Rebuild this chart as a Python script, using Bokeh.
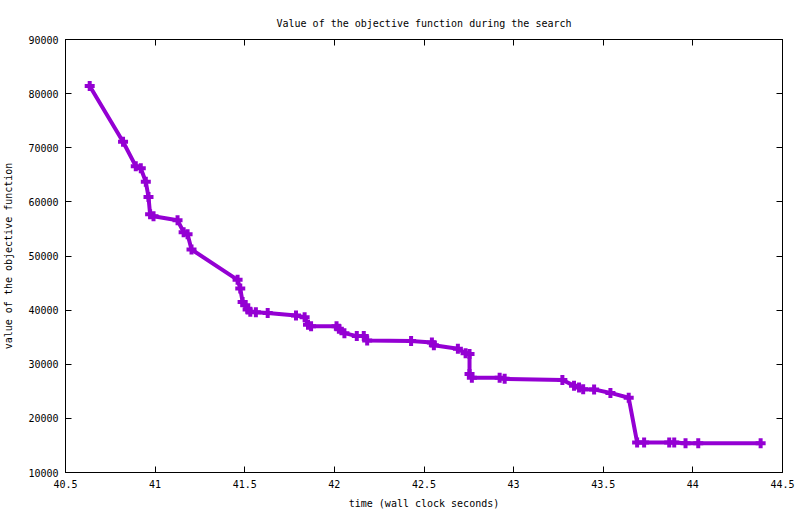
from bokeh.plotting import figure
from bokeh.models import (LinearAxis, SingleIntervalTicker, NumeralTickFormatter,
                          CustomJSTickFormatter, Range1d)
from bokeh.embed import file_html
from bokeh.resources import INLINE

# data
time_s = [40.635, 40.821, 40.892, 40.92, 40.948, 40.963, 40.972, 40.991, 41.125,
          41.159, 41.181, 41.203, 41.46, 41.475, 41.488, 41.503, 41.516, 41.531,
          41.562, 41.628, 41.786, 41.834, 41.853, 41.87, 42.012, 42.025, 42.056,
          42.125, 42.164, 42.183, 42.428, 42.544, 42.555, 42.689, 42.732, 42.754,
          42.754, 42.767, 42.922, 42.95, 43.272, 43.337, 43.365, 43.388, 43.449,
          43.54, 43.642, 43.689, 43.728, 43.868, 43.896, 43.959, 44.03, 44.378]
objective = [81400, 71100, 66600, 66200, 63700, 60900, 57700, 57350, 56600,
             54400, 54000, 51200, 45600, 44000, 41500, 40900, 40100, 39700,
             39600, 39450, 39000, 38700, 37300, 37000, 37000, 36550, 35750,
             35200, 35200, 34400, 34300, 34000, 33500, 32850, 32050, 31900,
             28200, 27500, 27500, 27300, 27100, 26050, 25700, 25400, 25350,
             24700, 23800, 15550, 15550, 15550, 15550, 15400, 15400, 15400]

title_text = "Value of the objective function during the search"
x_label = "time (wall clock seconds)"
y_label = "value of the objective function"

FONT = "DejaVu Sans Mono"
COLOR = "#9400d3"

p = figure(width=800, height=514, output_backend="svg", toolbar_location=None,
           x_range=Range1d(40.5, 44.5), y_range=Range1d(10000, 90000),
           min_border_left=64, min_border_right=18, min_border_top=39,
           min_border_bottom=42)

p.title.text = title_text
p.title.align = "center"
p.title.text_font = FONT
p.title.text_font_size = "10px"
p.title.text_font_style = "normal"
p.title.text_color = "black"
p.title.standoff = 22

p.grid.visible = False
p.outline_line_color = "black"
p.outline_line_width = 1
p.background_fill_color = "white"
p.border_fill_color = "white"

xt = SingleIntervalTicker(interval=0.5, num_minor_ticks=0)
yt = SingleIntervalTicker(interval=10000, num_minor_ticks=0)

p.xaxis.ticker = xt
p.yaxis.ticker = yt
p.xaxis.formatter = NumeralTickFormatter(format="0.[0]")
p.yaxis.formatter = NumeralTickFormatter(format="0")

for ax in (p.xaxis[0], p.yaxis[0]):
    ax.major_tick_in = 6
    ax.major_tick_out = 0
    ax.minor_tick_line_color = None
    ax.major_label_text_font = FONT
    ax.major_label_text_font_size = "10px"
    ax.major_label_text_color = "black"
    ax.axis_label_text_font = FONT
    ax.axis_label_text_font_size = "10px"
    ax.axis_label_text_font_style = "normal"
    ax.axis_label_text_color = "black"
    ax.axis_line_color = "black"
    ax.major_tick_line_color = "black"

p.xaxis.axis_label = x_label
p.yaxis.axis_label = y_label
p.xaxis.major_label_standoff = 7
p.xaxis.axis_label_standoff = 7
p.yaxis.major_label_standoff = 7
p.yaxis.axis_label_standoff = 11

blank = CustomJSTickFormatter(code="return ''")
right = LinearAxis(ticker=yt, formatter=blank)
top = LinearAxis(ticker=xt, formatter=blank)
for ax in (right, top):
    ax.major_tick_in = 6
    ax.major_tick_out = 0
    ax.minor_tick_line_color = None
    ax.major_label_standoff = 0
    ax.major_label_text_font_size = "1px"
    ax.axis_line_color = "black"
    ax.major_tick_line_color = "black"
p.add_layout(right, "right")
p.add_layout(top, "above")

p.line(time_s, objective, line_width=4, color=COLOR)
p.scatter(time_s, objective, marker="cross", size=10, line_width=4, color=COLOR)

open("out.html", "w").write(file_html(p, INLINE))
